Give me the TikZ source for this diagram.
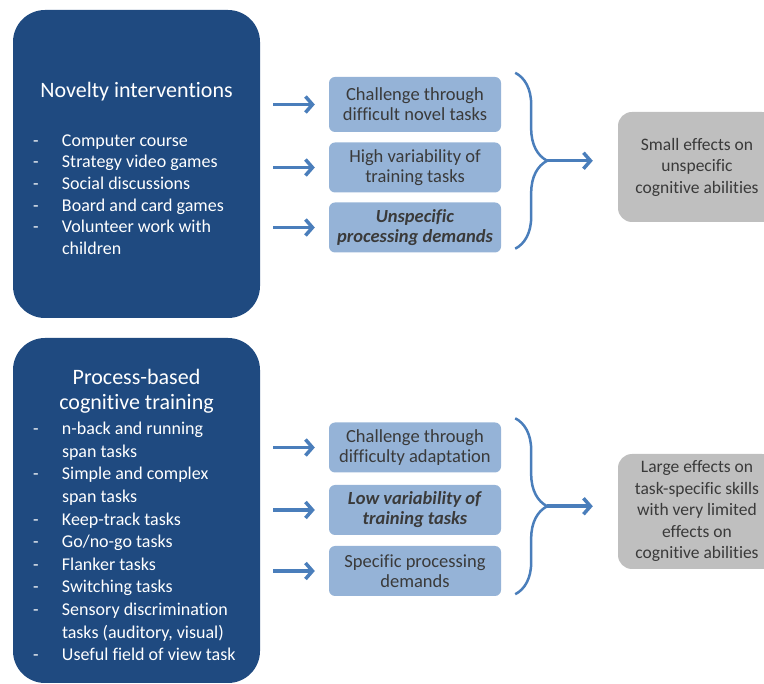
\documentclass[tikz,border=0pt]{standalone}
\usepackage{fontspec}
\setmainfont{Carlito}[Ligatures={TeX,NoCommon}]
\usetikzlibrary{arrows.meta,calc,decorations.pathreplacing}
\definecolor{navy}{RGB}{31,74,128}
\definecolor{paleblue}{RGB}{149,179,215}
\definecolor{arrowblue}{RGB}{74,126,187}
\definecolor{effectgray}{RGB}{191,191,191}
\definecolor{boxtext}{RGB}{58,58,58}
\tikzset{
  group/.style={fill=navy, rounded corners=32pt, minimum width=247pt, text=white, align=center, inner sep=0pt, font=\fontsize{22}{25}\selectfont},
  feature/.style={fill=paleblue, rounded corners=6pt, minimum width=172pt, minimum height=50pt, text=boxtext, align=center, inner sep=0pt, font=\fontsize{18.5}{20}\selectfont},
  effect/.style={fill=effectgray, rounded corners=14pt, minimum width=158pt, text=boxtext, align=center, inner sep=0pt, font=\fontsize{17.5}{21.5}\selectfont},
  arr/.style={-{Straight Barb[length=7pt,width=16pt]}, line width=3.5pt, arrowblue},
  brc/.style={decorate, decoration={brace, amplitude=32pt}, line width=2.5pt, arrowblue}
}
\begin{document}
\begin{tikzpicture}[x=1pt, y=-1pt]
  \useasboundingbox (0,0) rectangle (764,684);
  %groups
  \node[group, minimum height=308pt] at (136.5,164) (novel) {\rule{0pt}{30pt}Novelty interventions\\[24pt]
    {\fontsize{18}{21.6}\selectfont\begin{tabular}[t]{@{}p{29pt}@{}p{178pt}@{}}
      - & Computer course\\
      - & Strategy video games\\
      - & Social discussions\\
      - & Board and card games\\
      - & Volunteer work with\\
        & children
    \end{tabular}}};
  \node[group, minimum height=345pt] at (136.5,510.5) (proc) {\rule{0pt}{31pt}Process-based\\cognitive training\\[0pt]
    {\fontsize{18}{22.6}\selectfont\begin{tabular}[t]{@{}p{29pt}@{}p{178pt}@{}}
      - & n-back and running\\
        & span tasks\\
      - & Simple and complex\\
        & span tasks\\
      - & Keep-track tasks\\
      - & Go/no-go tasks\\
      - & Flanker tasks\\
      - & Switching tasks\\
      - & Sensory discrimination\\
        & tasks (auditory, visual)\\
      - & Useful field of view task
    \end{tabular}}};
  %features
  \node[feature, minimum height=55pt] at (415,104.5) (nch) {Challenge through\\difficult novel tasks};
  \node[feature] at (415,167.5) (nvar) {High variability of\\training tasks};
  \node[feature] at (415,227.5) (nproc) {\textbf{\textit{Unspecific}}\\\textbf{\textit{processing demands}}};
  \node[feature] at (415,447.5) (pch) {Challenge through\\difficulty adaptation};
  \node[feature] at (415,510) (pvar) {\textbf{\textit{Low variability of}}\\\textbf{\textit{training tasks}}};
  \node[feature] at (415,571) (pproc) {Specific processing\\demands};
  %effects
  \node[effect, minimum height=110pt] at (697,167) (small) {Small effects on\\unspecific\\cognitive abilities};
  \node[effect, minimum height=115pt] at (697,511.5) (large) {Large effects on\\task-specific skills\\with very limited\\effects on\\cognitive abilities};
  %arrows
  \foreach \g/\f in {novel/nch, novel/nvar, novel/nproc, proc/pch, proc/pvar, proc/pproc}
    \draw[arr, shorten <=13pt, shorten >=14pt] (\g.east |- \f) -- (\f);
  %braces
  \draw[brc] ($(nch.north east)+(14,-4)$) -- ($(nproc.south east)+(14,-4)$);
  \draw[brc] ($(pch.north east)+(14,-4)$) -- ($(pproc.south east)+(14,-2)$);
  \coordinate (ntip) at ($(nch.north east)!0.5!(nproc.south east)+(46,-4)$);
  \coordinate (ptip) at ($(pch.north east)!0.5!(pproc.south east)+(46,-3)$);
  \draw[arr, shorten >=25pt] (ntip) -- (ntip -| small.west);
  \draw[arr, shorten >=25pt] (ptip) -- (ptip -| large.west);
\end{tikzpicture}
\end{document}
